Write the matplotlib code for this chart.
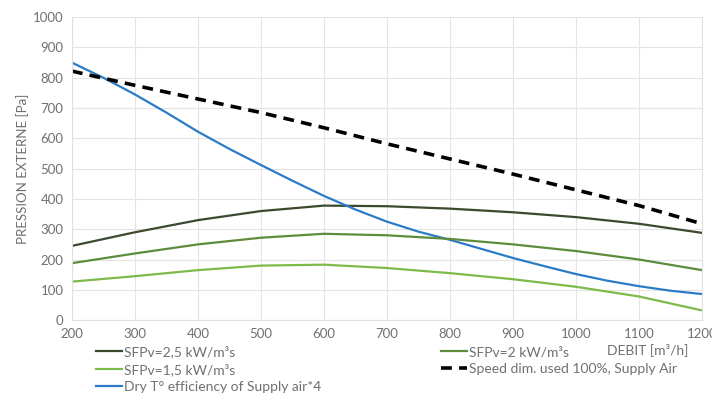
import matplotlib.pyplot as plt

debit = [200, 300, 400, 500, 600, 700, 800, 900, 1000, 1100, 1200]
sfp_25 = [245, 290, 330, 360, 378, 376, 368, 356, 340, 318, 288]
sfp_2 = [188, 220, 250, 272, 285, 280, 268, 250, 228, 200, 165]
sfp_15 = [127, 145, 165, 180, 183, 172, 155, 135, 110, 78, 32]
speed = [822, 775, 730, 685, 635, 582, 532, 482, 430, 378, 318]

# blue curve read at finer steps since it bends more
debit_fine = [200, 250, 300, 350, 400, 450, 500, 550, 600, 650, 700, 750,
              800, 850, 900, 950, 1000, 1050, 1100, 1150, 1200]
dry_eff = [850, 800, 745, 685, 622, 565, 512, 460, 410, 365, 325, 292,
           265, 235, 205, 178, 152, 130, 112, 97, 86]

plt.rcParams['font.family'] = ['Lato', 'DejaVu Sans']
txt = '#707070'

fig = plt.figure(figsize=(7.12, 4.19), dpi=100)
ax = fig.add_axes([0.101, 0.236, 0.885, 0.723])

ax.plot(debit, sfp_25, color='#3b4a2e', lw=1.6, label='SFPv=2,5 kW/m³s')
ax.plot(debit, sfp_15, color='#7cba4a', lw=1.6, label='SFPv=1,5 kW/m³s')
ax.plot(debit_fine, dry_eff, color='#2a7cc6', lw=1.6, label='Dry T° efficiency of Supply air*4')
ax.plot(debit, sfp_2, color='#5d8c3c', lw=1.6, label='SFPv=2 kW/m³s')
ax.plot(debit, speed, color='black', lw=2.6, ls=(0, (3, 2)), label='Speed dim. used 100%, Supply Air')

ax.set_xlim(200, 1200)
ax.set_ylim(0, 1000)
ax.set_xticks(range(200, 1201, 100))
ax.set_yticks(range(0, 1001, 100))
ax.grid(True, color='#e4e4e4', lw=0.8)
ax.set_axisbelow(True)
for s in ax.spines.values():
    s.set_color('#e0e0e0')
ax.spines['top'].set_visible(False)
ax.tick_params(colors=txt, labelsize=9.5, length=0, pad=6)

ax.set_ylabel('PRESSION EXTERNE [Pa]', color=txt, fontsize=9.5, labelpad=3)
ax.text(0.978, -0.076, 'DEBIT [m³/h]', transform=ax.transAxes, ha='right', va='top',
        color=txt, fontsize=10)

leg = ax.legend(loc='upper left', bbox_to_anchor=(0.02, -0.047), ncol=2, frameon=False,
                fontsize=10, handlelength=1.9, handletextpad=0.15, labelspacing=0.34,
                columnspacing=8.6, labelcolor=txt, borderpad=0.3)

fig.savefig('out.png', dpi=100)
